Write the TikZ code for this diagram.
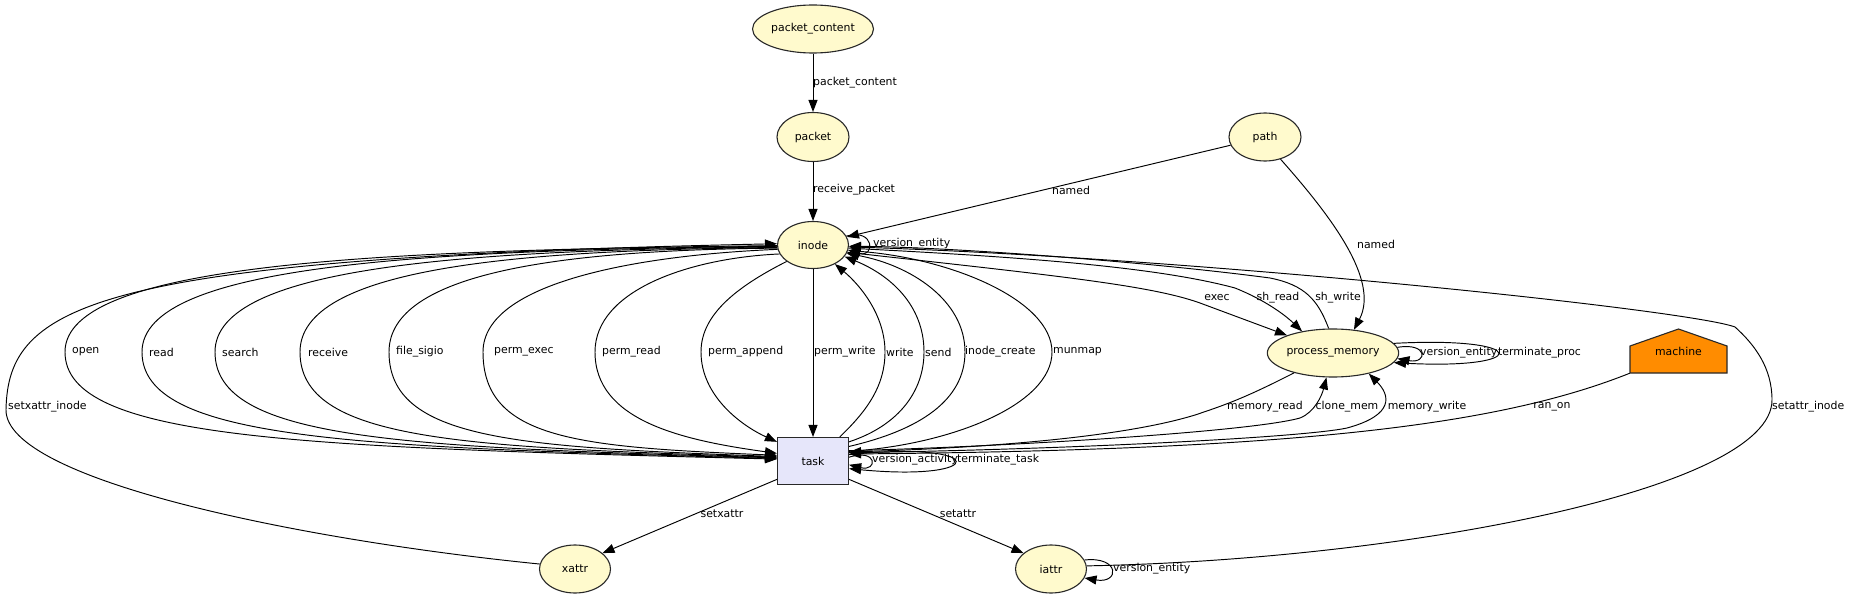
\documentclass[tikz,border=0pt]{standalone}
\usepackage{fontspec}
\setmainfont{DejaVu Sans}
\usetikzlibrary{arrows.meta,shapes.geometric}
\definecolor{entfill}{RGB}{255,250,205}
\definecolor{actfill}{RGB}{230,230,250}
\definecolor{machfill}{RGB}{255,140,0}
\definecolor{bord}{RGB}{40,40,40}
\newcommand\farL[4]{%
  \draw[edge] (inode.#2) .. controls ({#1+0.45*(777-#1)},250) and (#1,#4) .. (#1,352)
     .. controls (#1,440) and ({#1+0.33*(777-#1)},447) .. (task.#3);}
\begin{document}
\begin{tikzpicture}[x=1pt,y=-1pt,
  every node/.style={font=\fontsize{10.9}{13}\selectfont},
  ent/.style={ellipse, draw=bord, fill=entfill, line width=1.1pt, inner sep=0pt},
  act/.style={rectangle, draw=bord, fill=actfill, line width=1.1pt, inner sep=0pt,
              minimum width=71pt, minimum height=47pt},
  edge/.style={draw=black, line width=0.95pt, -{Triangle[length=12pt,width=9pt]}},
  lbl/.style={inner sep=0pt, anchor=west},
  lblc/.style={inner sep=0pt}]
\useasboundingbox (0,0) rectangle (1850,599);

% nodes
\node[ent, minimum width=121pt, minimum height=48pt] (pc) at (813,29) {packet\_content};
\node[ent, minimum width=72pt, minimum height=49pt] (packet) at (813,137) {packet};
\node[ent, minimum width=71pt, minimum height=47pt] (inode) at (813,245) {inode};
\node[ent, minimum width=72pt, minimum height=48pt] (path) at (1265,137) {path};
\node[ent, minimum width=129pt, minimum height=48pt] (pm) at (1333,353) {process\_memory};
\node[act] (task) at (813,461) {task};
\node[ent, minimum width=71pt, minimum height=48pt] (xattr) at (575,569) {xattr};
\node[ent, minimum width=71pt, minimum height=48pt] (iattr) at (1051,569) {iattr};
\filldraw[fill=machfill, draw=bord, line width=1.1pt]
  (1630,373) -- (1630,346) -- (1678.5,329) -- (1727,346) -- (1727,373) -- cycle;
\node[inner sep=0pt, minimum width=97pt, minimum height=44pt] (machine) at (1678.5,351) {machine};

% top chain
\draw[edge] (pc) -- (packet);
\draw[edge] (packet) -- (inode);
\draw[edge] (path) -- (inode);
\draw[edge] (path.-55) .. controls (1330,215) and (1380,280) .. (pm.48);
\draw[edge] (inode.15) .. controls (875,228) and (875,258) .. (inode.-8);

% inode -> task, left side
\farL{65}{181}{177}{262}
\farL{142}{182}{176}{264}
\farL{215}{183}{175}{266}
\farL{300}{184}{174}{268}
\farL{389}{185}{173}{272}
\draw[edge] (inode.187) .. controls (640,255) and (483,282) .. (483,352)
   .. controls (483,440) and (580,447) .. (task.171);
\draw[edge] (inode.195) .. controls (690,258) and (595,290) .. (595,352)
   .. controls (595,420) and (680,440) .. (task.168);
\draw[edge] (inode.212) .. controls (730,290) and (701,318) .. (701,352)
   .. controls (701,395) and (740,425) .. (task.152);
\draw[edge] (inode) -- (task);

% task -> inode, right side
\draw[edge] (task.42) .. controls (868,410) and (885,385) .. (885,352)
   .. controls (885,315) and (860,285) .. (inode.-41);
\draw[edge] (task.28) .. controls (900,425) and (924,390) .. (924,352)
   .. controls (924,305) and (890,275) .. (inode.-20);
\draw[edge] (task.22) .. controls (920,430) and (965,400) .. (965,352)
   .. controls (965,300) and (910,265) .. (inode.-14);
\draw[edge] (task.15) .. controls (950,445) and (1052,405) .. (1052,352)
   .. controls (1052,300) and (950,258) .. (inode.-9);

% inode <-> process_memory
\draw[edge] (inode.-12) .. controls (1050,275) and (1150,285) .. (1200,303) -- (pm.159);
\draw[edge] (inode.-5) .. controls (1000,256) and (1150,265) .. (1235,288)
   .. controls (1265,300) and (1285,315) .. (pm.145);
\draw[edge] (pm.100) .. controls (1318,300) and (1305,285) .. (1270,278)
   .. controls (1150,262) and (950,247) .. (inode.-2);

% loops
\draw[edge] (pm.5) .. controls (1428,342) and (1428,364) .. (pm.-5);
\draw[edge] (pm.9) .. controls (1532,336) and (1532,370) .. (pm.-9);
\draw[edge] (task.6) .. controls (878,448) and (878,472) .. (task.-6);
\draw[edge] (task.10) .. controls (990,440) and (990,482) .. (task.-12);
\draw[edge] (iattr.15) .. controls (1120,556) and (1120,584) .. (iattr.-15);

% process_memory <-> task, machine -> task
\draw[edge] (pm.207) .. controls (1245,398) and (1225,405) .. (1195,415)
   .. controls (1120,438) and (980,448) .. (task.14);
\draw[edge] (task.16) .. controls (1000,447) and (1250,432) .. (1300,418)
   .. controls (1315,412) and (1322,395) .. (pm.255);
\draw[edge] (task.13) .. controls (1050,450) and (1300,438) .. (1347,428)
   .. controls (1395,415) and (1390,395) .. (pm.330);
\draw[edge] (machine.south west) .. controls (1500,425) and (1300,450) .. (task.11);

% task -> attrs
\draw[edge] (task.207) -- (xattr.30);
\draw[edge] (task.-27) -- (iattr.150);

% attrs -> inode
\draw[edge] (xattr.172) .. controls (300,540) and (6,480) .. (6,410)
   .. controls (8,305) and (90,258) .. (inode.178);
\draw[edge] (iattr.5) .. controls (1400,560) and (1772,490) .. (1772,400)
   .. controls (1772,368) and (1755,345) .. (1735,327)
   .. controls (1690,310) and (1200,258) .. (inode.-3);

% labels
\node[lbl] (l1) at (813,83) {packet\_content};
\node[lbl] (l2) at (813,190) {receive\_packet};
\node[lblc] (l3) at (1071,190) {named};
\node[lblc] (l4) at (1376,244) {named};
\node[lbl] (l5) at (873,244) {version\_entity};
\node[lbl] (l6) at (72,352) {open};
\node[lbl] (l7) at (149,352) {read};
\node[lbl] (l8) at (222,352) {search};
\node[lbl] (l9) at (308,352) {receive};
\node[lbl] (l10) at (396,352) {file\_sigio};
\node[lbl] (l11) at (494,352) {perm\_exec};
\node[lbl] (l12) at (602,352) {perm\_read};
\node[lbl] (l13) at (708,352) {perm\_append};
\node[lbl] (l14) at (814,352) {perm\_write};
\node[lbl] (l15) at (886,352) {write};
\node[lbl] (l16) at (925,352) {send};
\node[lbl] (l17) at (965,352) {inode\_create};
\node[lbl] (l18) at (1053,352) {munmap};
\node[lbl] (l19) at (8,407) {setxattr\_inode};
\node[lblc] (l20) at (1217,298) {exec};
\node[lblc] (l21) at (1278,298) {sh\_read};
\node[lblc] (l22) at (1338,298) {sh\_write};
\node[lbl] (l23) at (1420,353) {version\_entity};
\node[lbl] (l24) at (1498,353) {terminate\_proc};
\node[lblc] (l25) at (1265,407) {memory\_read};
\node[lblc] (l26) at (1347,407) {clone\_mem};
\node[lblc] (l27) at (1427,407) {memory\_write};
\node[lblc] (l28) at (1552,407) {ran\_on};
\node[lbl] (l29) at (1772,407) {setattr\_inode};
\node[lbl] (l30) at (872,460) {version\_activity};
\node[lbl] (l31) at (957,460) {terminate\_task};
\node[lblc] (l32) at (722,514) {setxattr};
\node[lblc] (l33) at (958,514) {setattr};
\node[lbl] (l34) at (1113,569) {version\_entity};
\end{tikzpicture}
\end{document}
